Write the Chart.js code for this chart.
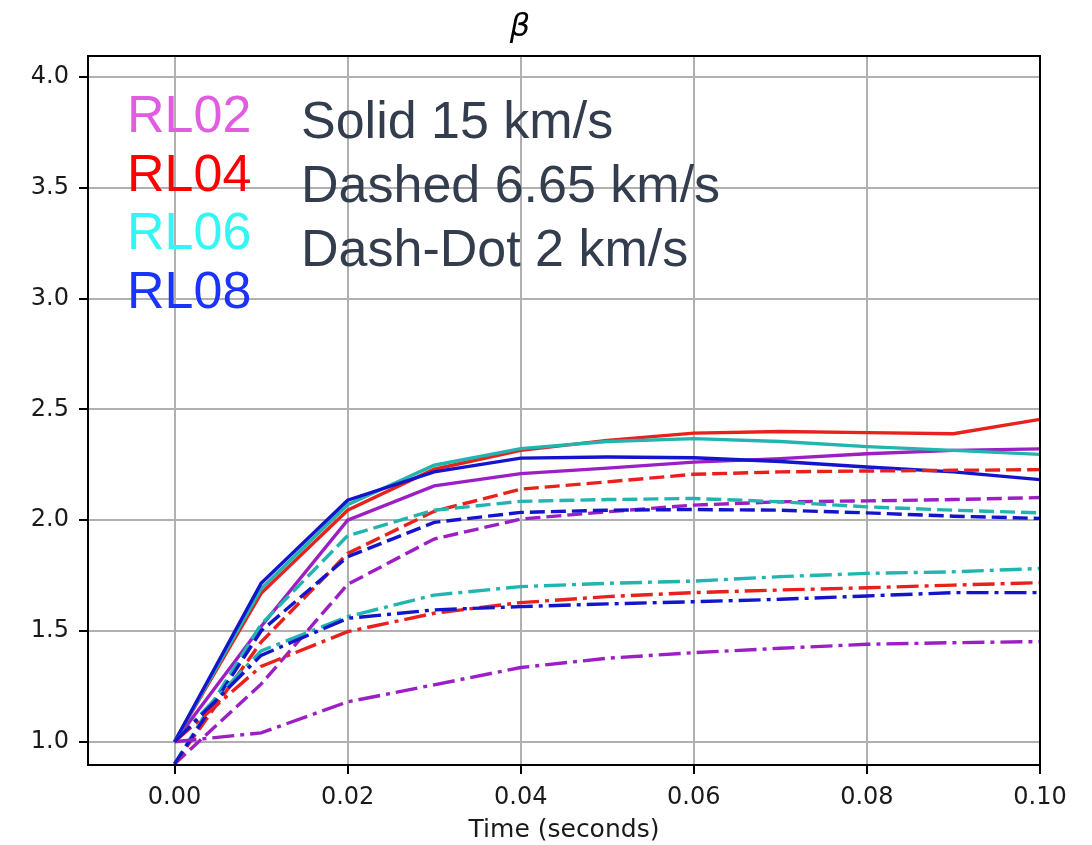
<!DOCTYPE html>
<html>
<head>
<meta charset="utf-8">
<script src="https://cdn.jsdelivr.net/npm/chart.js@4.4.0/dist/chart.umd.min.js"></script>
<style>
  html, body { margin: 0; padding: 0; background: #fff; }
  #wrap { width: 1092px; height: 845px; position: relative; }
</style>
</head>
<body>
<div id="wrap"><canvas id="beta"></canvas></div>
<script>
// beta vs time, three impact speeds x four runs

const times = [0, 0.01, 0.02, 0.03, 0.04, 0.05, 0.06, 0.07, 0.08, 0.09, 0.10];
const xTicks = [0, 0.02, 0.04, 0.06, 0.08, 0.10];
const yTicks = [1.0, 1.5, 2.0, 2.5, 3.0, 3.5, 4.0];

const runs = ['RL02', 'RL04', 'RL06', 'RL08'];
const speedLabels = ['Solid 15 km/s', 'Dashed 6.65 km/s', 'Dash-Dot 2 km/s'];

// Solid - 15 km/s
const solidRL02 = [1.0, 1.52, 2.0, 2.155, 2.21, 2.235, 2.262, 2.278, 2.30, 2.315, 2.322];
const solidRL04 = [1.0, 1.67, 2.045, 2.23, 2.315, 2.36, 2.393, 2.40, 2.395, 2.39, 2.455];
const solidRL06 = [1.0, 1.69, 2.07, 2.248, 2.323, 2.355, 2.368, 2.355, 2.332, 2.315, 2.297];
const solidRL08 = [1.0, 1.715, 2.09, 2.218, 2.28, 2.285, 2.282, 2.265, 2.24, 2.218, 2.183];

// Dashed - 6.65 km/s
const dashRL02 = [0.9, 1.26, 1.71, 1.915, 2.005, 2.038, 2.068, 2.083, 2.087, 2.093, 2.102];
const dashRL04 = [0.9, 1.45, 1.85, 2.04, 2.14, 2.173, 2.207, 2.218, 2.222, 2.225, 2.228];
const dashRL06 = [0.9, 1.53, 1.93, 2.045, 2.085, 2.093, 2.098, 2.083, 2.06, 2.045, 2.033];
const dashRL08 = [0.9, 1.50, 1.835, 1.99, 2.035, 2.045, 2.048, 2.045, 2.033, 2.018, 2.008];

// Dash-dot - 2 km/s
const dotRL02 = [1.0, 1.04, 1.18, 1.257, 1.335, 1.377, 1.402, 1.422, 1.44, 1.447, 1.452];
const dotRL04 = [1.0, 1.34, 1.497, 1.58, 1.628, 1.655, 1.673, 1.685, 1.695, 1.707, 1.718];
const dotRL06 = [1.0, 1.41, 1.565, 1.662, 1.70, 1.715, 1.725, 1.745, 1.76, 1.767, 1.782];
const dotRL08 = [1.0, 1.39, 1.557, 1.595, 1.61, 1.622, 1.632, 1.643, 1.658, 1.673, 1.673];

const lineColors = ['#9b1fc4', '#e8211c', '#22b5b0', '#1414cc'];
const textColors = ['#e05ce0', '#ff0000', '#33f5f5', '#1a33ff'];

const styles = [
  { dash: [], series: [solidRL02, solidRL04, solidRL06, solidRL08] },
  { dash: [15, 6], series: [dashRL02, dashRL04, dashRL06, dashRL08] },
  { dash: [22, 6, 4, 6], series: [dotRL02, dotRL04, dotRL06, dotRL08] },
];

const datasets = [];
styles.forEach(st => {
  st.series.forEach((vals, i) => {
    datasets.push({
      label: runs[i],
      data: times.map((t, k) => ({ x: t, y: vals[k] })),
      borderColor: lineColors[i],
      borderWidth: 3.4,
      borderDash: st.dash,
      pointRadius: 0,
      tension: 0,
      fill: false,
    });
  });
});
// later series on top, as in the original plot
datasets.forEach((d, i) => { d.order = -i; });

const overlay = {
  id: 'overlay',
  afterDraw(chart) {
    const { ctx, chartArea: a } = chart;
    ctx.save();
    ctx.strokeStyle = '#000';
    ctx.lineWidth = 2;
    ctx.strokeRect(a.left, a.top, a.right - a.left, a.bottom - a.top);

    ctx.font = '52px "Liberation Sans", Arial, sans-serif';
    ctx.textBaseline = 'alphabetic';
    ctx.textAlign = 'left';
    runs.forEach((r, i) => {
      ctx.fillStyle = textColors[i];
      ctx.fillText(r, 127, 132 + i * 58.7);
    });
    ctx.fillStyle = '#333d4d';
    speedLabels.forEach((s, i) => ctx.fillText(s, 301, 138 + i * 64));
    ctx.restore();
  },
};

const tickFont = { family: '"DejaVu Sans", sans-serif', size: 24 };

new Chart(document.getElementById('beta'), {
  type: 'line',
  data: { datasets },
  plugins: [overlay],
  options: {
    responsive: true,
    maintainAspectRatio: false,
    animation: false,
    layout: { padding: { left: 0, right: 52, top: 0, bottom: 0 } },
    plugins: {
      legend: { display: false },
      tooltip: { enabled: false },
      title: {
        display: true,
        text: 'β',
        color: '#000',
        font: { family: '"DejaVu Sans", sans-serif', size: 32, style: 'italic', weight: 'normal', lineHeight: 1.2 },
        padding: { top: 8, bottom: 9.6 },
      },
    },
    scales: {
      x: {
        type: 'linear',
        min: -0.01,
        max: 0.10,
        afterBuildTicks: s => { s.ticks = xTicks.map(v => ({ value: v })); },
        afterFit: s => { s.height = 80; },
        ticks: {
          color: '#1a1a1a',
          font: tickFont,
          padding: 9,
          maxRotation: 0,
          callback: v => v.toFixed(2),
        },
        grid: { color: '#b0b0b0', lineWidth: 2, tickColor: '#000', tickWidth: 2, tickLength: 9 },
        border: { color: '#000', width: 2 },
        title: {
          display: true,
          text: 'Time (seconds)',
          color: '#1a1a1a',
          font: { family: '"DejaVu Sans", sans-serif', size: 25, lineHeight: 1.2 },
          padding: { top: 0, bottom: 0 },
        },
      },
      y: {
        min: 0.895,
        max: 4.095,
        afterBuildTicks: s => { s.ticks = yTicks.map(v => ({ value: v })); },
        afterFit: s => { s.width = 88; },
        ticks: {
          color: '#1a1a1a',
          font: tickFont,
          padding: 10,
          callback: v => v.toFixed(1),
        },
        grid: { color: '#b0b0b0', lineWidth: 2, tickColor: '#000', tickWidth: 2, tickLength: 9 },
        border: { color: '#000', width: 2 },
      },
    },
  },
});
</script>
</body>
</html>
